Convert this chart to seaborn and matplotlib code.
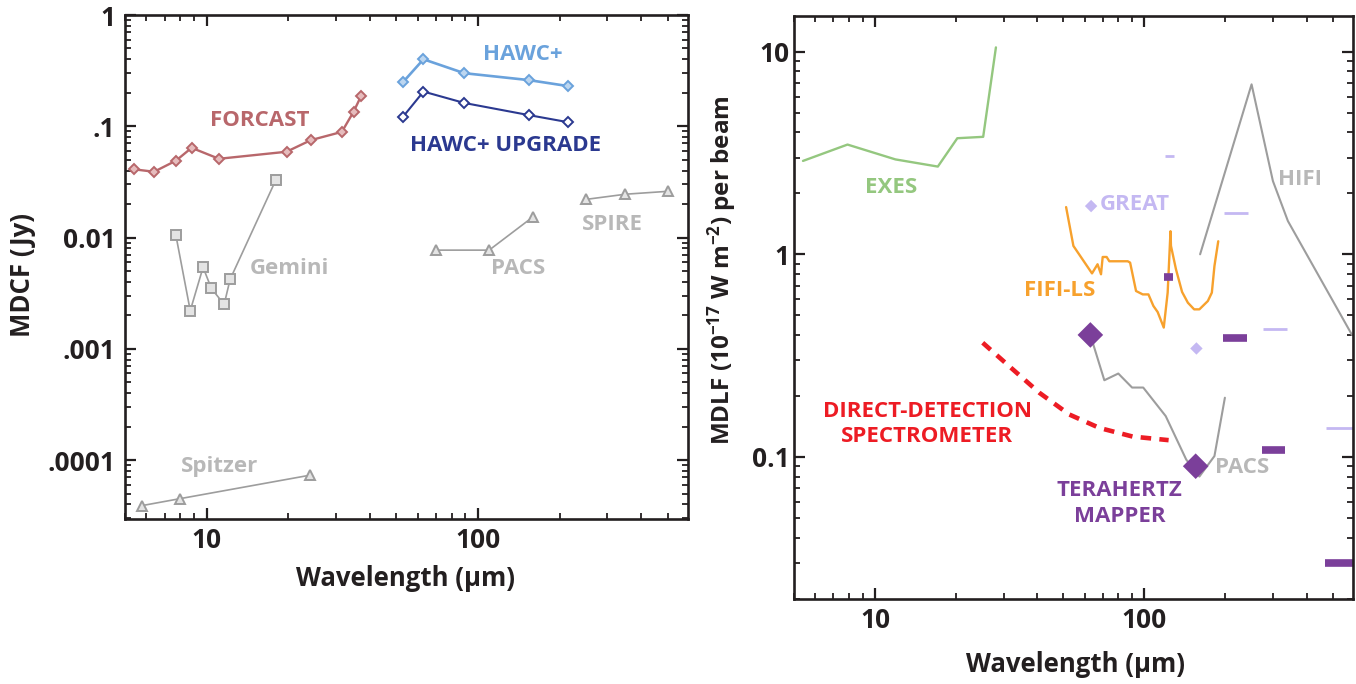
import numpy as np
import pandas as pd
import matplotlib
matplotlib.use("Agg")
import matplotlib.pyplot as plt
import seaborn as sns

# ---------------- data: left panel (MDCF, Jy) ----------------
forcast_wl = [5.4, 6.4, 7.7, 8.8, 11.1, 19.7, 24.2, 31.5, 34.8, 37.1]
forcast_v = [0.041, 0.039, 0.049, 0.064, 0.051, 0.059, 0.075, 0.089, 0.135, 0.187]
hawc_wl = [53, 63, 89, 154, 214]
hawc_v = [0.25, 0.40, 0.30, 0.26, 0.23]
hawcup_wl = [53, 63, 89, 154, 214]
hawcup_v = [0.122, 0.205, 0.162, 0.126, 0.109]
gemini_wl = [7.7, 8.7, 9.7, 10.4, 11.6, 12.2, 18.0]
gemini_v = [0.0105, 0.0022, 0.0054, 0.0035, 0.0025, 0.0042, 0.033]
pacs_l_wl = [70, 110, 160]
pacs_l_v = [0.0077, 0.0077, 0.0154]
spire_wl = [250, 350, 500]
spire_v = [0.022, 0.0245, 0.026]
spitzer_wl = [5.8, 8.0, 24.0]
spitzer_v = [3.9e-5, 4.5e-5, 7.3e-5]
left_yticks = [1e-4, 1e-3, 1e-2, 1e-1, 1]
left_yticklabels = [".0001", ".001", "0.01", ".1", "1"]

# ---------------- data: right panel (MDLF) ----------------
exes_wl = [5.4, 7.9, 11.9, 17.1, 20.2, 25.2, 28.1]
exes_v = [2.89, 3.48, 2.94, 2.71, 3.74, 3.80, 10.5]
fifi_wl = [51.2, 54.5, 63.9, 67.0, 69.0, 70.0, 72.4, 74.1, 86.7, 88.5, 93.1, 98.6, 103.5,
           108, 112, 118, 122, 125, 125.5, 131, 138, 145, 153, 160, 172, 178, 182, 188]
fifi_v = [1.71, 1.10, 0.805, 0.893, 0.797, 0.97, 0.97, 0.924, 0.924, 0.91, 0.659, 0.634, 0.634,
          0.556, 0.519, 0.435, 0.647, 1.30, 1.10, 0.843, 0.652, 0.577, 0.535, 0.535, 0.588, 0.647, 0.875, 1.16]
hifi_wl = [161, 250, 300, 341, 590]
hifi_v = [1.0, 6.9, 2.3, 1.46, 0.40]
pacs_r_wl = [63, 71, 80, 90, 99, 120, 143, 160, 182, 199]
pacs_r_v = [0.40, 0.239, 0.258, 0.220, 0.220, 0.159, 0.097, 0.080, 0.101, 0.196]
dds_wl = [25.1, 32.0, 40.8, 52.6, 68.1, 90.5, 123]
dds_v = [0.366, 0.275, 0.207, 0.162, 0.139, 0.126, 0.121]
great_pt_wl = [63.4, 156]
great_pt_v = [1.73, 0.343]
great_bar_lo = [119, 197, 276, 474]
great_bar_hi = [129, 242, 338, 600]
great_bar_v = [3.04, 1.59, 0.426, 0.139]
thz_pt_wl = [63, 155]
thz_pt_v = [0.40, 0.090]
thz_bar_lo = [118, 195, 273, 470]
thz_bar_hi = [128, 240, 334, 600]
thz_bar_v = [0.776, 0.386, 0.108, 0.030]
right_yticks = [0.1, 1, 10]
right_yticklabels = ["0.1", "1", "10"]
x_ticks = [10, 100]
x_ticklabels = ["10", "100"]

# ---------------- style ----------------
sns.set_theme(style="ticks")
plt.rcParams["font.family"] = ["Open Sans", "DejaVu Sans"]
plt.rcParams["font.weight"] = "bold"
plt.rcParams["mathtext.default"] = "regular"
INK = "#231f20"
C_FOR = "#b8676b"
C_HAWC = "#6aa2dc"
C_HAWCUP = "#2b3990"
C_GRAY = "#9d9d9d"
C_GTXT = "#b8b8b8"
C_EXES = "#94c77f"
C_FIFI = "#f7a12d"
C_RED = "#ed1c24"
C_PURP = "#7b3f9a"
C_LPURP = "#c4b8f2"

fig = plt.figure(figsize=(13.56, 6.84), dpi=100)
axL = fig.add_axes([125 / 1356, 1 - 519 / 684, (688 - 125) / 1356, (519 - 15) / 684])
axR = fig.add_axes([794 / 1356, 1 - 599 / 684, (1353 - 794) / 1356, (599 - 16) / 684])


def series(ax, x, y, color, lw=1.2, marker=None, ms=6, mfc="white", ls="-", **kw):
    df = pd.DataFrame({"x": x, "y": y})
    sns.lineplot(data=df, x="x", y="y", ax=ax, sort=False, estimator=None, color=color,
                 lw=lw, marker=marker, markersize=ms, markerfacecolor=mfc,
                 markeredgecolor=color, markeredgewidth=1.4, linestyle=ls, **kw)


def bars(ax, lo, hi, v, color, lw):
    rows = []
    for i, (a, b, c) in enumerate(zip(lo, hi, v)):
        rows.append({"x": a, "y": c, "seg": i})
        rows.append({"x": b, "y": c, "seg": i})
    df = pd.DataFrame(rows)
    sns.lineplot(data=df, x="x", y="y", units="seg", estimator=None, ax=ax, color=color,
                 lw=lw, solid_capstyle="butt")


# ---- left panel ----
series(axL, forcast_wl, forcast_v, C_FOR, lw=1.7, marker="D", ms=5.5, mfc="#e6bcbd")
series(axL, hawc_wl, hawc_v, C_HAWC, lw=1.9, marker="D", ms=5.5, mfc="#bcd6f0")
series(axL, hawcup_wl, hawcup_v, C_HAWCUP, lw=1.5, marker="D", ms=5.5, mfc="white")
series(axL, gemini_wl, gemini_v, C_GRAY, lw=1.2, marker="s", ms=7, mfc="#e4e4e4")
series(axL, pacs_l_wl, pacs_l_v, C_GRAY, lw=1.2, marker="^", ms=7, mfc="#e4e4e4")
series(axL, spire_wl, spire_v, C_GRAY, lw=1.2, marker="^", ms=7, mfc="#e4e4e4")
series(axL, spitzer_wl, spitzer_v, C_GRAY, lw=1.2, marker="^", ms=7, mfc="#e4e4e4")

FS_ANN = 16
axL.text(15.7, 0.113, "FORCAST", color=C_FOR, fontsize=FS_ANN, fontweight="bold", ha="center", va="center")
axL.text(147, 0.443, "HAWC+", color=C_HAWC, fontsize=FS_ANN, fontweight="bold", ha="center", va="center")
axL.text(126, 0.0676, "HAWC+ UPGRADE", color=C_HAWCUP, fontsize=FS_ANN, fontweight="bold", ha="center", va="center")
axL.text(20.2, 0.00532, "Gemini", color=C_GTXT, fontsize=FS_ANN, fontweight="bold", ha="center", va="center")
axL.text(141, 0.00532, "PACS", color=C_GTXT, fontsize=FS_ANN, fontweight="bold", ha="center", va="center")
axL.text(312, 0.0132, "SPIRE", color=C_GTXT, fontsize=FS_ANN, fontweight="bold", ha="center", va="center")
axL.text(11.2, 8.75e-5, "Spitzer", color=C_GTXT, fontsize=FS_ANN, fontweight="bold", ha="center", va="center")

# ---- right panel ----
series(axR, exes_wl, exes_v, C_EXES, lw=1.7)
series(axR, fifi_wl, fifi_v, C_FIFI, lw=1.7)
series(axR, hifi_wl, hifi_v, C_GRAY, lw=1.5)
series(axR, pacs_r_wl, pacs_r_v, C_GRAY, lw=1.5)
series(axR, dds_wl, dds_v, C_RED, lw=3.3, ls=(0, (2.3, 1.8)))
bars(axR, great_bar_lo, great_bar_hi, great_bar_v, C_LPURP, 2.0)
bars(axR, thz_bar_lo, thz_bar_hi, thz_bar_v, C_PURP, 5.5)
sns.scatterplot(x=great_pt_wl, y=great_pt_v, ax=axR, marker="D", s=40, color=C_LPURP, edgecolor="none")
sns.scatterplot(x=thz_pt_wl, y=thz_pt_v, ax=axR, marker="D", s=170, color=C_PURP, edgecolor="none", zorder=5)

axR.text(11.5, 2.14, "EXES", color=C_EXES, fontsize=FS_ANN, fontweight="bold", ha="center", va="center")
axR.text(91.8, 1.77, "GREAT", color=C_LPURP, fontsize=FS_ANN, fontweight="bold", ha="center", va="center")
axR.text(377, 2.35, "HIFI", color=C_GTXT, fontsize=FS_ANN, fontweight="bold", ha="center", va="center")
axR.text(48.3, 0.664, "FIFI-LS", color=C_FIFI, fontsize=FS_ANN, fontweight="bold", ha="center", va="center")
axR.text(15.6, 0.146, "DIRECT-DETECTION\nSPECTROMETER", color=C_RED, fontsize=FS_ANN,
         fontweight="bold", ha="center", va="center", linespacing=1.25)
axR.text(80.7, 0.0589, "TERAHERTZ\nMAPPER", color=C_PURP, fontsize=FS_ANN,
         fontweight="bold", ha="center", va="center", linespacing=1.3)
axR.text(231, 0.0887, "PACS", color=C_GTXT, fontsize=FS_ANN, fontweight="bold", ha="center", va="center")

# ---- axes formatting ----
for ax in (axL, axR):
    ax.set_xscale("log")
    ax.set_yscale("log")
    ax.set_xlim(5, 595)
    for s in ax.spines.values():
        s.set_visible(True)
        s.set_linewidth(1.9)
        s.set_color(INK)
    ax.tick_params(which="both", direction="in", top=True, right=True, color=INK,
                   labelsize=19, labelcolor=INK)
    ax.tick_params(which="major", length=8, width=1.6)
    ax.tick_params(which="minor", length=4.5, width=1.3)
    ax.tick_params(axis="x", pad=6)
    ax.set_xticks(x_ticks)
    ax.set_xticklabels(x_ticklabels, fontweight="bold")
    ax.set_xlabel("")
    ax.set_ylabel("")

axL.tick_params(axis="y", pad=7)
axR.tick_params(axis="y", pad=3)
axL.set_ylim(2.95e-5, 1.0)
axL.set_yticks(left_yticks)
axL.set_yticklabels(left_yticklabels, fontweight="bold")
axR.set_ylim(0.0199, 15)
axR.set_yticks(right_yticks)
axR.set_yticklabels(right_yticklabels, fontweight="bold")

fig.text(405 / 1356, 1 - 578 / 684, "Wavelength (µm)", fontsize=18.5, fontweight="bold",
         color=INK, ha="center", va="center")
fig.text(1075 / 1356, 1 - 665 / 684, "Wavelength (µm)", fontsize=18.5, fontweight="bold",
         color=INK, ha="center", va="center")
fig.text(23 / 1356, 1 - 275 / 684, "MDCF (Jy)", fontsize=18.5, fontweight="bold",
         color=INK, ha="center", va="center", rotation=90)
fig.text(722 / 1356, 1 - 270 / 684, "MDLF (10$^{-17}$ W m$^{-2}$) per beam", fontsize=17.5,
         fontweight="bold", color=INK, ha="center", va="center", rotation=90)

fig.savefig("out.png", dpi=100, facecolor="white")
